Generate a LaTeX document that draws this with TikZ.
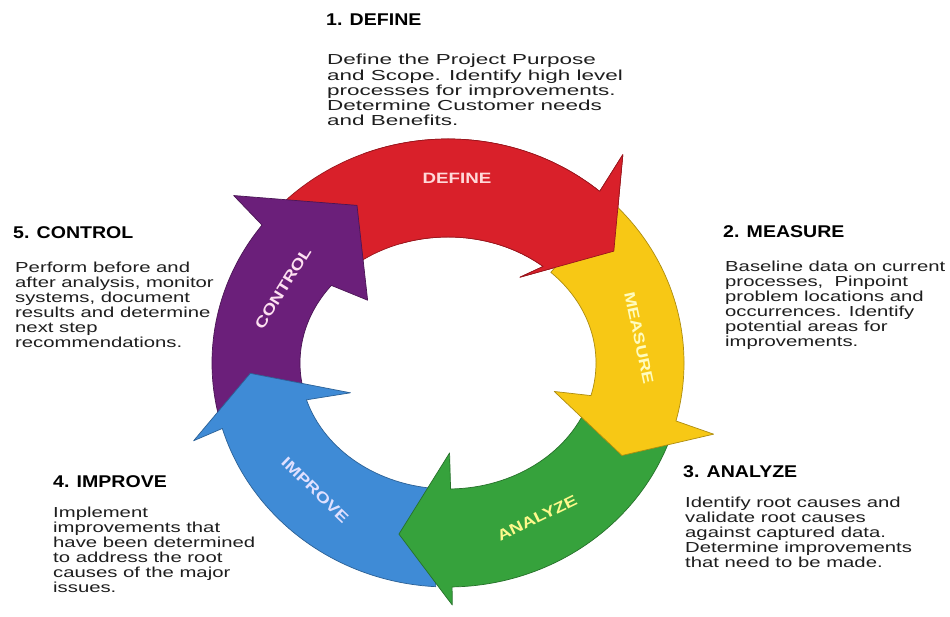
\documentclass[tikz,border=0pt]{standalone}
\usepackage{fontspec}
\setmainfont{Liberation Sans}
\newfontfamily\bodyfont{Liberation Sans}[FakeStretch=1.4]
\newfontfamily\bodyfontw{Liberation Sans}[FakeStretch=1.55]
\newfontfamily\headfont{Liberation Sans}[FakeStretch=1.15]
\newfontfamily\ringfont{Liberation Sans}[FakeStretch=1.25]
\usetikzlibrary{calc}
\definecolor{cRed}{HTML}{D9202A}
\definecolor{cYel}{HTML}{F7C815}
\definecolor{cGrn}{HTML}{36A23C}
\definecolor{cBlu}{HTML}{3F8BD6}
\definecolor{cPur}{HTML}{6B1F7A}
\definecolor{txt}{HTML}{1E1E1E}
\def\rxo{236}\def\ryo{224}\def\rxi{148}\def\ryi{126}
% #1 colour, #2 start angle, #3 base angle of head, #4 tip angle,
% #5 outer barb radius, #6 tip radius, #7 inner barb radius
\newcommand\ringarrow[7]{%
  \filldraw[fill=#1, draw=#1!70!black, line width=0.7pt, line join=round]
    ($(C)+({\rxo*cos(#2)},{\ryo*sin(#2)})$)
    arc[start angle=#2, end angle=#3, x radius=\rxo pt, y radius=\ryo pt]
    -- ($(C)+(#3:#5pt)$)
    -- ($(C)+(#4:#6pt)$)
    -- ($(C)+(#3:#7pt)$)
    -- ($(C)+({\rxi*cos(#3)},{\ryi*sin(#3)})$)
    arc[start angle=#3, end angle=#2, x radius=\rxi pt, y radius=\ryi pt]
    -- cycle;}
\tikzset{
  head/.style={anchor=base west, inner sep=0pt, text=black, font=\headfont\bfseries\fontsize{17}{18}\selectfont},
  body/.style={anchor=base west, inner sep=0pt, align=left, text=txt, font=\bodyfont\fontsize{14.5}{15}\selectfont},
  ringlbl/.style={inner sep=0pt, font=\ringfont\bfseries\fontsize{15}{16}\selectfont}
}
\begin{document}
\begin{tikzpicture}[x=1pt,y=1pt]
\useasboundingbox (0,0) rectangle (950,617);
\fill[white] (0,0) rectangle (950,617);
\coordinate (C) at (448,254);
% ring arrows
\ringarrow{cRed}{138}{50}{34}{272}{200}{112}
\ringarrow{cPur}{195}{142}{120}{272}{182}{102}
\ringarrow{cBlu}{-93}{-163}{-177}{266}{198}{102}
\ringarrow{cGrn}{-19}{-89}{-106}{242}{178}{90}
\ringarrow{cYel}{46}{-15}{-28}{275}{197}{110}
\begin{scope}
  \clip (C) -- ($(C)+(112:460)$) -- ($(C)+(60:460)$) -- ($(C)+(0:460)$) -- ($(C)+(-50:460)$) -- cycle;
  \ringarrow{cRed}{138}{50}{34}{272}{200}{112}
\end{scope}
% ring labels
\node[ringlbl, text=red!15!white] (lD) at (457,439) {DEFINE};
\node[ringlbl, text=yellow!25!white, rotate=-78] (lM) at (639,279) {MEASURE};
\node[ringlbl, text=yellow!45!white, rotate=26] (lA) at (537,99) {ANALYZE};
\node[ringlbl, text=blue!12!white, rotate=-44] (lI) at (315,127) {IMPROVE};
\node[ringlbl, text=magenta!12!white, rotate=58] (lC) at (283,329) {CONTROL};
% texts (body nodes: base = last line baseline)
\node[head] (hD) at (326,591) {1. DEFINE};
\node[body, font=\bodyfontw\fontsize{14.5}{15.25}\selectfont] (bD) at (327,491) {Define the Project Purpose\\and Scope. Identify high level\\processes for improvements.\\Determine Customer needs\\and Benefits.};
\node[head] (hM) at (723,379) {2. MEASURE};
\node[body] (bM) at (725,270) {Baseline data on current\\processes,\ \ Pinpoint\\problem locations and\\occurrences. Identify\\potential areas for\\improvements.};
\node[head] (hA) at (683,139) {3. ANALYZE};
\node[body] (bA) at (685,49) {Identify root causes and\\validate root causes\\against captured data.\\Determine improvements\\that need to be made.};
\node[head] (hI) at (53,129) {4. IMPROVE};
\node[body] (bI) at (53,24) {Implement\\improvements that\\have been determined\\to address the root\\causes of the major\\issues.};
\node[head] (hC) at (13,378) {5. CONTROL};
\node[body] (bC) at (15,269) {Perform before and\\after analysis, monitor\\systems, document\\results and determine\\next step\\recommendations.};
\end{tikzpicture}
\end{document}
